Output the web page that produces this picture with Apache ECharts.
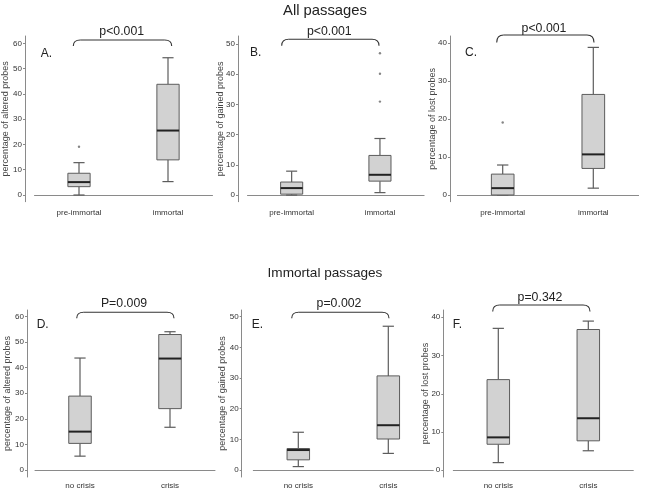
<!DOCTYPE html>
<html><head><meta charset="utf-8">
<script src="https://cdn.jsdelivr.net/npm/echarts@6/dist/echarts.min.js"></script>
<style>html,body{margin:0;padding:0;background:#fff}#c{width:650px;height:488px}</style>
</head><body><div id="c"></div>
<script>
// ---- data ----
const categoriesAll = ['pre-immortal', 'immortal'];
const categoriesImm = ['no crisis', 'crisis'];
// box stats: [min whisker, Q1, median, Q3, max whisker]
const alteredAll = [[0, 3.3, 5.1, 8.6, 12.8], [5.3, 13.9, 25.5, 43.8, 54.3]];
const alteredAllOutliers = [[0, 19.1]];
const gainedAll = [[0, 0.3, 2.3, 4.3, 7.9], [0.8, 4.6, 6.7, 13.1, 18.7]];
const gainedAllOutliers = [[1, 30.9], [1, 40.1], [1, 46.9]];
const lostAll = [[0, 0, 1.8, 5.5, 7.9], [1.8, 7.0, 10.7, 26.5, 38.9]];
const lostAllOutliers = [[0, 19.1]];
const alteredImm = [[5.4, 10.4, 15.0, 28.9, 43.8], [16.7, 24.0, 43.6, 53.0, 54.1]];
const gainedImm = [[1.1, 3.3, 6.5, 7.0, 12.3], [5.4, 10.1, 14.6, 30.7, 46.9]];
const lostImm = [[2.0, 6.8, 8.6, 23.7, 37.1], [5.1, 7.7, 13.6, 36.8, 39.0]];
const ticks60 = [0, 10, 20, 30, 40, 50, 60];
const ticks50 = [0, 10, 20, 30, 40, 50];
const ticks40 = [0, 10, 20, 30, 40];
const pValues = ['p<0.001', 'p<0.001', 'p<0.001', 'P=0.009', 'p=0.002', 'p=0.342'];
const panelLetters = ['A.', 'B.', 'C.', 'D.', 'E.', 'F.'];
const yNames = ['percentage of altered probes', 'percentage of gained probes', 'percentage of lost probes',
                'percentage of altered probes', 'percentage of gained probes', 'percentage of lost probes'];
const sectionTitles = ['All passages', 'Immortal passages'];

// ---- layout ----
const FONT = 'Liberation Sans, Arial, Helvetica, sans-serif';
const panels = [
  {grid:{left:34.5, top:36, width:178, height:165.7}, off:9.5, gap:15, lm:7, min:-2.65, max:62.9, ticks:ticks60, cats:categoriesAll, box:alteredAll, out:alteredAllOutliers},
  {grid:{left:247.5, top:36, width:176.6, height:165.7}, off:9.5, gap:13, lm:7, min:-2.2, max:52.6, ticks:ticks50, cats:categoriesAll, box:gainedAll, out:gainedAllOutliers},
  {grid:{left:457.4, top:36, width:181.2, height:165.7}, off:7.4, gap:13, lm:7, min:-1.77, max:41.9, ticks:ticks40, cats:categoriesAll, box:lostAll, out:lostAllOutliers},
  {grid:{left:35, top:310, width:180, height:167}, off:8, gap:15, lm:5, min:-2.76, max:62.6, ticks:ticks60, cats:categoriesImm, box:alteredImm, out:[]},
  {grid:{left:253.3, top:310, width:180, height:167}, off:11.6, gap:15, lm:5, min:-2.3, max:52.2, ticks:ticks50, cats:categoriesImm, box:gainedImm, out:[]},
  {grid:{left:453.3, top:310, width:180, height:167}, off:10, gap:13, lm:5, min:-1.76, max:41.9, ticks:ticks40, cats:categoriesImm, box:lostImm, out:[]}
];
// annotation placement: bracket [y, x1, x2, drop], p text [x,y], letter [x,y]
const brackets = [[40, 73.3, 171.7, 6], [39.3, 281.7, 379, 6.4], [35, 496.7, 594, 7.5],
                  [312.3, 76.7, 174, 6], [312.3, 291.7, 389, 6], [305, 492.7, 590, 6.5]];
const pPos = [[121.7, 31.7], [329.3, 31.7], [544, 28.3], [124, 303.3], [339, 304], [540, 297.3]];
const letterPos = [[40.7, 53.3], [250, 52.3], [465, 52.3], [36.7, 325], [251.7, 325], [452.7, 325]];

const AXIS = '#8a8a8a', TEXT = '#333', BOX = '#d2d2d2', EDGE = '#5c5c5c', MED = '#222';

function renderBox(params, api) {
  const c = api.value(0);
  const pMin = api.coord([c, api.value(1)]);
  const pQ1 = api.coord([c, api.value(2)]);
  const pMed = api.coord([c, api.value(3)]);
  const pQ3 = api.coord([c, api.value(4)]);
  const pMax = api.coord([c, api.value(5)]);
  const w = api.size([1, 0])[0] * 0.25;
  const cx = pMin[0];
  const ls = {stroke: EDGE, lineWidth: 1.2};
  return {type: 'group', children: [
    {type: 'line', shape: {x1: cx, y1: pMax[1], x2: cx, y2: pQ3[1]}, style: ls},
    {type: 'line', shape: {x1: cx, y1: pQ1[1], x2: cx, y2: pMin[1]}, style: ls},
    {type: 'line', shape: {x1: cx - w / 4, y1: pMax[1], x2: cx + w / 4, y2: pMax[1]}, style: ls},
    {type: 'line', shape: {x1: cx - w / 4, y1: pMin[1], x2: cx + w / 4, y2: pMin[1]}, style: ls},
    {type: 'rect', shape: {x: cx - w / 2, y: pQ3[1], width: w, height: Math.max(pQ1[1] - pQ3[1], 0.5)}, style: {fill: BOX, stroke: EDGE, lineWidth: 1}},
    {type: 'line', shape: {x1: cx - w / 2, y1: pMed[1], x2: cx + w / 2, y2: pMed[1]}, style: {stroke: MED, lineWidth: 2}}
  ]};
}

const option = {
  animation: false,
  backgroundColor: '#fff',
  title: [
    {text: sectionTitles[0], left: 'center', top: -2, textStyle: {fontFamily: FONT, fontSize: 14.8, fontWeight: 'normal', color: '#222'}},
    {text: sectionTitles[1], left: 'center', top: 261, textStyle: {fontFamily: FONT, fontSize: 13.6, fontWeight: 'normal', color: '#222'}}
  ],
  grid: [], xAxis: [], yAxis: [], series: [], graphic: []
};

panels.forEach((p, i) => {
  option.grid.push(Object.assign({containLabel: false, outerBoundsMode: 'none'}, p.grid));
  option.xAxis.push({
    type: 'category', gridIndex: i, data: p.cats, boundaryGap: true,
    axisLine: {lineStyle: {color: AXIS, width: 1}},
    axisTick: {alignWithLabel: true, length: 3, lineStyle: {color: AXIS}},
    axisLabel: {fontFamily: FONT, fontSize: 8, color: TEXT, margin: p.lm},
    splitLine: {show: false}
  });
  option.yAxis.push({
    type: 'value', gridIndex: i, min: p.min, max: p.max, offset: p.off,
    name: yNames[i], nameLocation: 'middle', nameGap: p.gap, nameRotate: 90, nameMoveOverlap: false,
    nameTextStyle: {fontFamily: FONT, fontSize: 9, color: '#444'},
    axisLine: {show: true, lineStyle: {color: AXIS, width: 1}},
    axisTick: {show: true, length: 2, customValues: p.ticks, lineStyle: {color: AXIS}},
    axisLabel: {fontFamily: FONT, fontSize: 8, color: TEXT, margin: 3, customValues: p.ticks, showMinLabel: true, showMaxLabel: true},
    splitLine: {show: false}
  });
  option.series.push({
    type: 'custom', xAxisIndex: i, yAxisIndex: i, renderItem: renderBox,
    encode: {x: 0, y: [1, 2, 3, 4, 5]},
    data: p.box.map((b, k) => [k].concat(b))
  });
  if (p.out.length) {
    option.series.push({
      type: 'scatter', xAxisIndex: i, yAxisIndex: i, data: p.out,
      symbol: 'circle', symbolSize: 2.4, itemStyle: {color: '#666'}
    });
  }
  const [by, x1, x2, d] = brackets[i];
  const r = 7;
  const bs = {stroke: '#333', lineWidth: 1.1, fill: null};
  option.graphic.push({type: 'bezierCurve', z: 10, shape: {x1: x1, y1: by + d, x2: x1 + r, y2: by, cpx1: x1, cpy1: by}, style: bs});
  option.graphic.push({type: 'line', z: 10, shape: {x1: x1 + r, y1: by, x2: x2 - r, y2: by}, style: bs});
  option.graphic.push({type: 'bezierCurve', z: 10, shape: {x1: x2 - r, y1: by, x2: x2, y2: by + d, cpx1: x2, cpy1: by}, style: bs});
  option.graphic.push({
    type: 'text', z: 10, x: pPos[i][0], y: pPos[i][1],
    style: {text: pValues[i], font: `12.3px ${FONT}`, fill: '#222', textAlign: 'center', textVerticalAlign: 'middle'}
  });
  option.graphic.push({
    type: 'text', z: 10, x: letterPos[i][0], y: letterPos[i][1],
    style: {text: panelLetters[i], font: `12px ${FONT}`, fill: '#222', textAlign: 'left', textVerticalAlign: 'middle'}
  });
});

const chart = echarts.init(document.getElementById('c'), null, {renderer: 'canvas'});
chart.setOption(option);
</script></body></html>
